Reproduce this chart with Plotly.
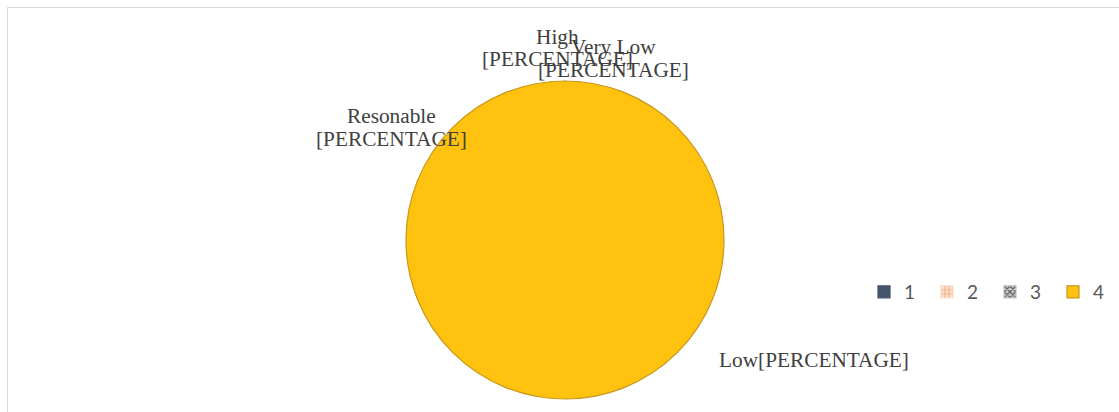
import plotly.graph_objects as go

# Data
legend_labels = ["1", "2", "3", "4"]
values = [0, 0, 0, 100]
slice_names = ["High", "Very Low", "Resonable", "Low"]
slice_colors = ["#44546A", "#FBE0CC", "#D9D9D9", "#FEC20F"]
line_colors = ["#44546A", "#FBE0CC", "#BFBFBF", "#C9971A"]
pattern_shapes = ["", "+", "x", ""]
pattern_fg = ["#44546A", "#F4B183", "#595959", "#FEC20F"]
pattern_bg = ["#44546A", "#FBE5D6", "#D0D0D0", "#FEC20F"]

W, H = 1119, 412

fig = go.Figure()
fig.add_trace(go.Pie(
    labels=legend_labels,
    values=values,
    sort=False,
    direction="clockwise",
    rotation=0,
    textinfo="none",
    hoverinfo="label+value",
    marker=dict(
        colors=slice_colors,
        line=dict(color=line_colors, width=1.2),
        pattern=dict(shape=pattern_shapes, fgcolor=pattern_fg, bgcolor=pattern_bg,
                     size=4, solidity=0.5),
    ),
    domain=dict(x=[(565 - 159) / W, (565 + 159) / W], y=[1 - 399 / H, 1 - 81 / H]),
    showlegend=True,
))

lab_font = dict(family="Liberation Serif, Times New Roman, serif", size=21.3, color="#404040")
# label lines: (text, x_px, y_px)
label_lines = [
    (slice_names[0], 557, 37),
    ("[PERCENTAGE]", 557, 59),
    (slice_names[1], 613, 47),
    ("[PERCENTAGE]", 613, 70),
    (slice_names[2], 391, 116),
    ("[PERCENTAGE]", 391, 139),
    (slice_names[3] + "[PERCENTAGE]", 814, 360),
]
for txt, xp, yp in label_lines:
    fig.add_annotation(x=xp / W, y=1 - yp / H, xref="paper", yref="paper",
                       text=txt, showarrow=False, font=lab_font,
                       xanchor="center", yanchor="middle")

# chart frame
fig.add_shape(type="rect", xref="paper", yref="paper",
              x0=7.5 / W, x1=1.05, y0=-0.05, y1=1 - 7.5 / H,
              line=dict(color="#D9D9D9", width=1), fillcolor="rgba(0,0,0,0)")

fig.update_layout(
    width=W, height=H,
    margin=dict(l=0, r=0, t=0, b=0, autoexpand=False),
    paper_bgcolor="white",
    plot_bgcolor="white",
    legend=dict(
        orientation="h",
        x=864 / W, xanchor="left",
        y=1 - 292 / H, yanchor="middle",
        font=dict(family="Lato, Carlito, sans-serif", size=19, color="#595959"),
        entrywidth=18, entrywidthmode="pixels",
        bgcolor="rgba(0,0,0,0)",
        traceorder="normal",
    ),
)

fig.write_html("out.html")
